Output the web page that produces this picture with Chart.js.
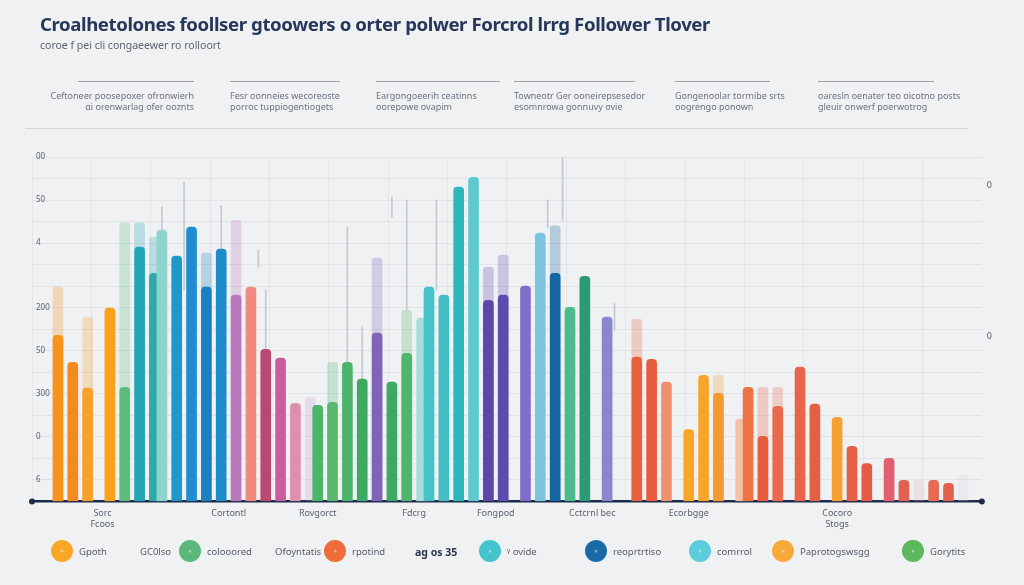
<!DOCTYPE html>
<html>
<head>
<meta charset="utf-8">
<script src="https://cdn.jsdelivr.net/npm/chart.js@4.4.1/dist/chart.umd.min.js"></script>
<style>
body{margin:0;background:#eff1f3;font-family:"Noto Sans",sans-serif;}
#wrap{position:relative;width:1024px;height:585px;overflow:hidden;}
#chart{position:absolute;left:0;top:0;}
.title{position:absolute;left:40px;top:11px;font-size:18.6px;font-weight:700;color:#26375a;white-space:nowrap;letter-spacing:-0.4px;}
.sub{position:absolute;left:40px;top:38px;font-size:10.5px;color:#5b6470;white-space:nowrap;}
.col{position:absolute;top:81px;font-size:9px;line-height:11px;color:#6b7480;white-space:nowrap;}
.col .rule{height:1px;background:#9aa1aa;margin-bottom:8px;}
.sep{position:absolute;left:25px;top:128px;width:943px;height:1px;background:#d3d7dc;}
.leg{position:absolute;top:541px;height:22px;font-size:9.5px;color:#555d68;white-space:nowrap;line-height:22px;}
.dot{position:absolute;top:540px;width:22px;height:22px;border-radius:50%;color:#fff;font-size:9px;text-align:center;line-height:22px;}
</style>
</head>
<body>
<div id="wrap">
  <canvas id="chart" width="1024" height="585"></canvas>
  <div class="title">Croalhetolones foollser gtoowers o orter polwer Forcrol lrrg Follower Tlover</div>
  <div class="sub">coroe f pei cli congaeewer ro rolloort</div>

  <div class="col" style="left:46px;width:148px;text-align:right"><div class="rule" style="margin-left:32px"></div>Ceftoneer poosepoxer ofronwierh<br>ɑi orenwarlag ofer ooznts</div>
  <div class="col" style="left:230px;width:110px"><div class="rule"></div>Fesr oonneies wecoreoste<br>porroc tuppiogentiogets</div>
  <div class="col" style="left:376px;width:124px"><div class="rule"></div>Eargongoeerih ceatinns<br>oorepowe ovapim</div>
  <div class="col" style="left:514px;width:121px"><div class="rule"></div>Towneotr Ger ooneirepsesedor<br>esomnrowa gonnuvy ovie</div>
  <div class="col" style="left:675px;width:95px"><div class="rule"></div>Gongenoolar tormibe srts<br>oogrengo ponown</div>
  <div class="col" style="left:818px;width:116px"><div class="rule"></div>oaresln oenater teo oicotno posts<br>gleuir onwerf poerwotrog</div>
  <div class="sep"></div>

  <div id="legend"></div>
</div>
<script>
// slot grid: 128 narrow slots, bars sit in some of them
const slotCount = 128;
const barSlots = [3,5,7,10,12,14,16,17,19,21,23,25,27,29,31,33,35,37,38,40,42,44,46,48,50,52,53,55,57,59,61,63,66,68,70,72,74,77,81,83,85,88,90,92,95,96,98,100,103,105,108,110,112,115,117,119,121,123,125];
const followers = [386,323,263,449,265,591,530,630,570,637,498,586,479,498,353,333,228,null,223,230,323,284,391,277,344,426,498,479,730,753,467,479,500,623,530,451,523,428,335,330,277,167,293,251,191,265,151,221,312,226,195,128,88,100,49,null,49,42,null];
const reach = [498,null,428,null,647,647,614,null,null,null,577,null,653,null,null,null,null,242,null,323,null,null,565,null,444,null,null,null,null,null,544,572,null,null,640,null,null,null,423,null,null,null,null,293,null,null,265,265,null,null,null,null,null,null,null,49,null,null,60];
const barColors = ['#f7941d','#f58a1f','#f7a02a','#f9a11b','#5dbb7d','#22a5b5','#2ea9a8','#8fd3cf','#1f9ac8','#1f8dd0','#1b7fc0','#208bc9','#b77bbd','#f08a80','#b84a70','#c85e9c','#df8fae','#c9a6d6','#4cb36a','#58b86e','#4db46c','#3fa862','#8064b8','#3ea865','#4db56c','#a8ddd7','#46c3c9','#42bdc3','#2cb7bd','#5fc9cf','#5a48a9','#5d4bb0','#7f6fc6','#7cc5de','#1467a3','#4cbb8c','#2b9b74','#8a86cc','#e8603c','#e65c3c','#f0916e','#f7a626','#f6a42a','#f29a2c','#f4c0a8','#ef7445','#e85d3d','#e96a4e','#e8654a','#e45f44','#f7a035','#e35f45','#e45c44','#e06070','#e26050','#e8b4bc','#e56a55','#e3604a','#d8d8e0'];

// thin range marks above some bars
const whiskerSlots = [17,20,25,30,31,42,44,48,50,54,69,71,78];
const whiskerLow = [623,491,467,544,351,321,281,660,444,491,637,653,398];
const whiskerHigh = [684,742,688,584,491,637,405,707,700,700,700,798,460];

const groupNames = [['Sorc','Fcoos'],'Cortontl','Rovgorct','Fdcrg','Fongpod','Cctcrnl bec','Ecorbgge',['Cocoro','Stogs']];
const groupSlots = [9,26,38,51,62,75,88,108];

const leftTickValues = [800,700,600,450,350,250,150,50];
const leftTickText = ['00','50','4','200','50','300','0','6'];
const rightTickValues = [384,735];
const rightTickText = ['0','0'];

const legendItems = [
  {dot:62, color:'#f9a825', label:'Gpoth'},
  {text:140, label:'GC0lso'},
  {dot:190, color:'#5cb87a', label:'colooored'},
  {text:275, label:'Ofoyntatis'},
  {dot:335, color:'#f26b3a', label:'rpotind'},
  {text:415, label:'ag os 35', bold:true},
  {dot:490, color:'#45c4cc', label:'ᵞ ovide'},
  {dot:596, color:'#1a6aa8', label:'reoprtrtiso'},
  {dot:700, color:'#5ccbdc', label:'comrrol'},
  {dot:783, color:'#f9a83a', label:'Paprotogswsgg'},
  {dot:913, color:'#5cb85c', label:'Gorytits'}
];

// build slot tables
const labels = new Array(slotCount).fill('');
groupSlots.forEach((s, i) => labels[s] = groupNames[i]);
const mainData = new Array(slotCount).fill(null);
const faintData = new Array(slotCount).fill(null);
const whiskerData = new Array(slotCount).fill(null);
const mainColors = new Array(slotCount).fill('transparent');
const faintColors = new Array(slotCount).fill('transparent');
barSlots.forEach((s, i) => {
  mainData[s] = followers[i];
  faintData[s] = reach[i];
  mainColors[s] = barColors[i];
  faintColors[s] = barColors[i] + '44';
});
whiskerSlots.forEach((s, i) => whiskerData[s] = [whiskerLow[i], whiskerHigh[i]]);

const axisEnds = {
  id: 'axisEnds',
  afterDraw(chart) {
    const {ctx, chartArea} = chart;
    const y = chart.scales.x.top;
    ctx.save();
    ctx.fillStyle = '#1d2b4a';
    [chartArea.left, chartArea.right].forEach(x => {
      ctx.beginPath(); ctx.arc(x, y, 3, 0, Math.PI * 2); ctx.fill();
    });
    ctx.restore();
  }
};

new Chart(document.getElementById('chart'), {
  type: 'bar',
  data: {
    labels: labels,
    datasets: [
      {label: 'followers', data: mainData, backgroundColor: mainColors, barThickness: 10, borderRadius: 4, borderSkipped: 'start', grouped: false, order: 0},
      {label: 'whisker', data: whiskerData, backgroundColor: '#c3c9d1', barThickness: 1, grouped: false, order: 1},
      {label: 'reach', data: faintData, backgroundColor: faintColors, barThickness: 10, borderRadius: 3, borderSkipped: 'start', grouped: false, order: 2}
    ]
  },
  options: {
    responsive: false,
    animation: false,
    layout: {padding: {left: 24, right: 27, top: 157, bottom: 48}},
    plugins: {legend: {display: false}, tooltip: {enabled: false}},
    scales: {
      x: {
        grid: {drawTicks: false, color: c => (c.index % 8 === 0 ? '#e3e6ea' : 'transparent')},
        border: {color: '#1d2b4a', width: 2.5},
        ticks: {autoSkip: false, maxRotation: 0, padding: 7, color: '#5a6270', font: {family: 'Noto Sans', size: 9}}
      },
      y: {
        min: 0, max: 800,
        grid: {drawTicks: false, color: '#dfe2e6'},
        border: {display: false},
        ticks: {stepSize: 50, mirror: true, padding: 4, color: '#5a6270', font: {family: 'Noto Sans', size: 8},
          callback: v => { const k = leftTickValues.indexOf(v); return k >= 0 ? leftTickText[k] : ''; }}
      },
      y2: {
        position: 'right', min: 0, max: 800,
        grid: {display: false, drawTicks: false},
        border: {display: false},
        afterBuildTicks: a => { a.ticks = rightTickValues.map(v => ({value: v})); },
        ticks: {padding: 5, color: '#5a6270', font: {family: 'Noto Sans', size: 9},
          callback: (v, i) => rightTickText[i]}
      }
    }
  },
  plugins: [axisEnds]
});

// legend row
const lg = document.getElementById('legend');
legendItems.forEach(it => {
  if (it.dot !== undefined) {
    const d = document.createElement('div');
    d.className = 'dot';
    d.style.left = (it.dot - 11) + 'px';
    d.style.background = it.color;
    d.textContent = '◦';
    lg.appendChild(d);
    const t = document.createElement('div');
    t.className = 'leg';
    t.style.left = (it.dot + 17) + 'px';
    t.textContent = it.label;
    lg.appendChild(t);
  } else {
    const t = document.createElement('div');
    t.className = 'leg';
    t.style.left = it.text + 'px';
    if (it.bold) { t.style.fontWeight = '700'; t.style.color = '#2a3550'; t.style.fontSize = '10.5px'; }
    t.textContent = it.label;
    lg.appendChild(t);
  }
});
</script>
</body>
</html>
